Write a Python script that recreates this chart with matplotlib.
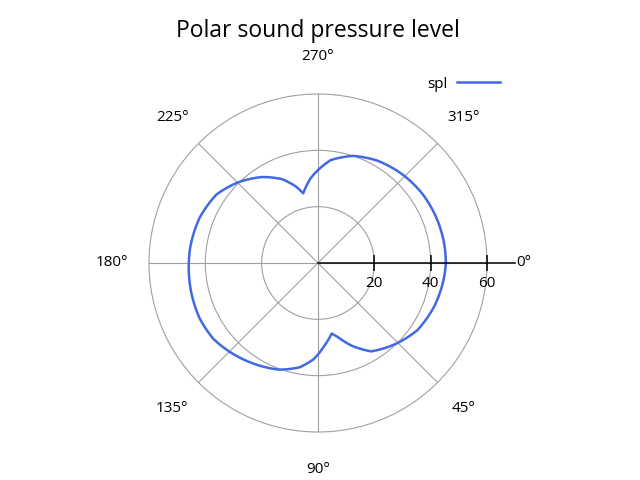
import numpy as np
import matplotlib.pyplot as plt

plt.rcParams['font.family'] = ['Open Sans', 'DejaVu Sans']

# sound pressure level, angle in degrees (clockwise from east)
angle_deg = [0, 9, 20, 34, 45, 59, 68, 75, 79, 85, 90, 93, 100, 110, 123, 135, 144, 155, 167, 179,
             187, 201, 214, 225, 237, 247, 254, 258, 265, 270, 277, 288, 300, 314, 327, 339, 350, 360]
spl = [45.4, 44.9, 44.1, 42.6, 40.1, 36.6, 31.6, 27.2, 25.5, 29.1, 32.5, 34.4, 37.6, 40.3, 42.5, 44.5,
       45.9, 46.4, 46.2, 45.9, 45.7, 45.0, 43.5, 40.4, 36.4, 32.3, 28.2, 25.3, 30.2, 33.0, 36.8, 40.0,
       42.0, 43.5, 44.5, 45.0, 45.3, 45.4]

r_ticks = [20, 40, 60]
theta_ticks = [0, 45, 90, 135, 180, 225, 270, 315]
theta_labels = ['0°', '45°', '90°', '135°', '180°', '225°', '270°', '315°']

fig = plt.figure(figsize=(6.4, 4.8), dpi=100)
ax = fig.add_axes([149 / 640, 48 / 480, 338 / 640, 338 / 480], projection='polar')
ax.set_theta_zero_location('E')
ax.set_theta_direction(-1)
ax.set_ylim(0, 60)

grid_col = '#a0a0a0'
ax.set_rgrids(r_ticks, labels=[''] * len(r_ticks))
ax.set_thetagrids(theta_ticks, labels=[''] * len(theta_ticks))
ax.grid(True, color=grid_col, lw=0.8)
for gl in ax.yaxis.get_gridlines():
    gl.set_clip_on(False)
ax.spines['polar'].set_visible(False)
ax.tick_params(length=0)

line, = ax.plot(np.deg2rad(angle_deg), spl, color='#4169e1', lw=1.8, label='spl')
line.get_path()._interpolation_steps = 20  # draw segments as arcs in polar space

# radial axis along 0 deg
ax.plot([0, 0], [0, 70], color='black', lw=1.1, clip_on=False, zorder=3)
for r in r_ticks:
    ax.plot([0], [r], marker='|', markersize=11, color='black', mew=1.1,
            clip_on=False, zorder=3)
    ax.annotate(str(r), xy=(0, r), xytext=(0, -14.5), textcoords='offset points',
                ha='center', va='center', fontsize=11, annotation_clip=False)

for t, lab in zip(theta_ticks, theta_labels):
    ax.text(np.deg2rad(t), 73.2, lab, ha='center', va='center', fontsize=11, clip_on=False)

fig.text(318 / 640, 1 - 31 / 480, 'Polar sound pressure level', ha='center', va='center', fontsize=16.5)

ax.legend(loc='center right', bbox_to_anchor=(500 / 640, 1 - 84 / 480), bbox_transform=fig.transFigure,
          frameon=False, markerfirst=False, fontsize=11, handlelength=2.8, handletextpad=0.6,
          borderpad=0, borderaxespad=0)

fig.savefig('out.png')
